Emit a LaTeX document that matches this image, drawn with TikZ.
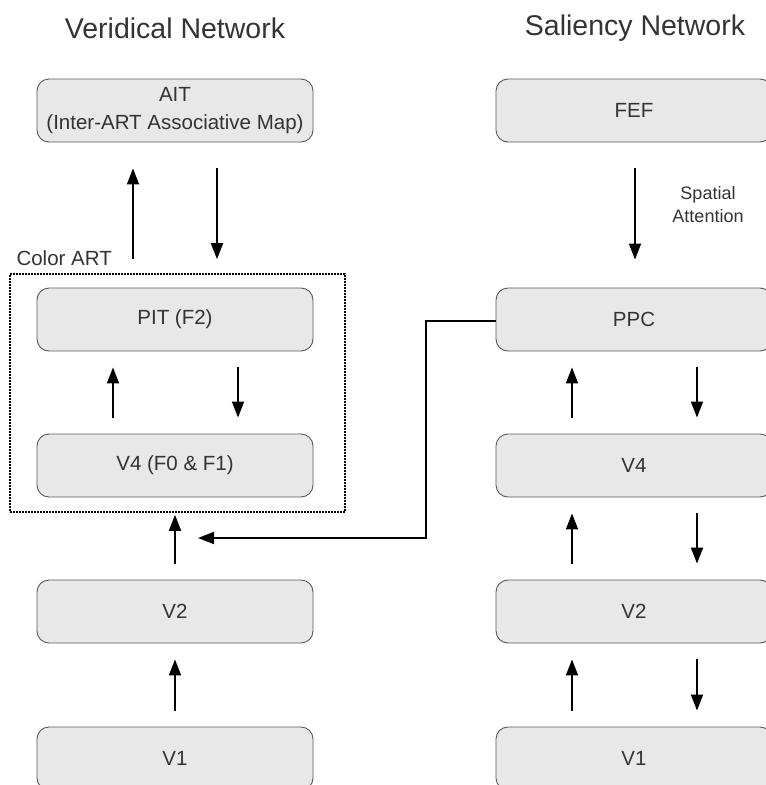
\documentclass[tikz,border=0pt]{standalone}
\usepackage{fontspec}
\setmainfont{Liberation Sans}
\usetikzlibrary{arrows.meta,positioning,calc}

\begin{document}
\begin{tikzpicture}[x=1pt,y=-1pt,
        area/.style={rectangle, rounded corners=12pt, draw=black!65, line width=0.9pt, fill=black!9, minimum width=276pt, minimum height=63pt, text=black!80, font=\fontsize{20.5}{28}\selectfont, align=center},
        title/.style={text=black!80, font=\fontsize{28.5}{34}\selectfont},
        lbl/.style={text=black!80, font=\fontsize{18}{23}\selectfont, align=center},
        arr/.style={-{Triangle[length=16pt,width=12pt]}, line width=1.8pt},
        pair/.style={arr, shorten <=16pt, shorten >=16pt}]
        \useasboundingbox (0,0) rectangle (766,785);

        % Veridical network
        \node[title] (vtitle) at (175,28) {Veridical Network};

        \node[area] (ait) at (175,110.5) {AIT\\(Inter-ART Associative Map)};
        \node[area] (pit) at (175,319.5) {PIT (F2)};
        \node[area] (v4l) at (175,465.5) {V4 (F0 \& F1)};
        \node[area] (v2l) at (175,611.5) {V2};
        \node[area] (v1l) at (175,758.5) {V1};

        % Color ART
        \node[draw, line width=1.6pt, dash pattern=on 1.6pt off 1.4pt, minimum width=335pt, minimum height=238pt] (colorart) at (177.5,393) {};
        \node[lbl, font=\fontsize{20.5}{24}\selectfont, anchor=base west] (artlbl) at (13,265) {Color ART};

        \draw[arr, shorten <=14pt, shorten >=26pt] ([xshift=-42pt]colorart.north -| ait.south) -- ([xshift=-42pt]ait.south);
        \draw[arr, shorten <=26pt, shorten >=14pt] ([xshift=42pt]ait.south) -- ([xshift=42pt]colorart.north -| ait.south);
        \draw[pair] ([xshift=-62pt]v4l.north) -- ([xshift=-62pt]pit.south);
        \draw[pair] ([xshift=63pt]pit.south) -- ([xshift=63pt]v4l.north);
        \draw[arr, shorten <=16pt, shorten >=2pt] (v2l.north) -- (colorart.south -| v2l.north);
        \draw[pair] (v1l.north) -- (v2l.south);

        % Saliency network
        \node[title] (stitle) at (635,28) {Saliency Network};

        \node[area] (fef) at (634,110.5) {FEF};
        \node[area] (ppc) at (634,319.5) {PPC};
        \node[area] (v4r) at (634,465.5) {V4};
        \node[area] (v2r) at (634,611.5) {V2};
        \node[area] (v1r) at (634,758.5) {V1};

        \draw[arr, shorten <=26pt, shorten >=28pt] ([xshift=1pt]fef.south) -- ([xshift=1pt]ppc.north);
        \node[lbl] (spatial) at (708,205) {Spatial\\Attention};

        \draw[pair] ([xshift=-62pt]v4r.north) -- ([xshift=-62pt]ppc.south);
        \draw[pair] ([xshift=63pt]ppc.south) -- ([xshift=63pt]v4r.north);
        \draw[pair] ([xshift=-62pt]v2r.north) -- ([xshift=-62pt]v4r.south);
        \draw[pair] ([xshift=63pt]v4r.south) -- ([xshift=63pt]v2r.north);
        \draw[pair] ([xshift=-62pt]v1r.north) -- ([xshift=-62pt]v2r.south);
        \draw[pair] ([xshift=63pt]v2r.south) -- ([xshift=63pt]v1r.north);

        % PPC feedback to V4
        \coordinate (turn) at (426,538);
        \coordinate (entry) at (198,538);
        \draw[arr] ([yshift=-1.5pt]ppc.west) -| (turn) -- (entry);

    \end{tikzpicture}
\end{document}
